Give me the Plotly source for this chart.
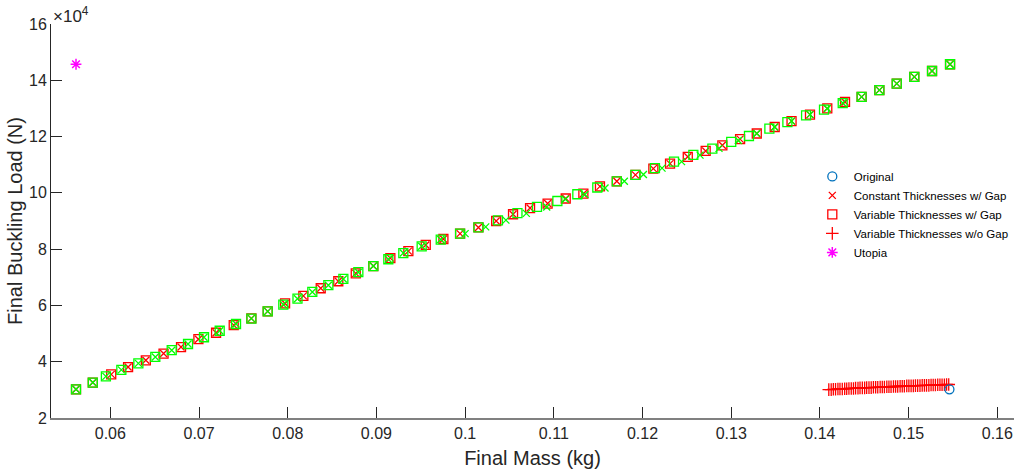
import plotly.graph_objects as go

# Pareto fronts: final mass (kg) vs final buckling load (x10^4 N)

# Constant thicknesses with gap (red x) and variable thicknesses with gap (red squares)
gap_mass = [0.05613, 0.05802, 0.0601, 0.0620, 0.0640, 0.0660, 0.06797, 0.06993, 0.07192, 0.07391,
            0.0759, 0.07774, 0.0797, 0.08176, 0.08372, 0.0857, 0.08767, 0.08965, 0.09157, 0.0936,
            0.09556, 0.09755, 0.09943, 0.1015, 0.1035, 0.1054, 0.10732, 0.1093, 0.11134, 0.11333,
            0.1152, 0.1171, 0.1192, 0.12122, 0.1231, 0.1251, 0.12712, 0.1290, 0.1310, 0.13288,
            0.1349, 0.1368, 0.13888, 0.14083, 0.14283, 0.1447, 0.1467, 0.14866, 0.15064, 0.15264,
            0.15467]
gap_load = [3.02, 3.26, 3.55, 3.81, 4.05, 4.29, 4.52, 4.80, 5.03, 5.30,
            5.54, 5.79, 6.07, 6.34, 6.61, 6.86, 7.14, 7.40, 7.68, 7.93,
            8.15, 8.36, 8.55, 8.77, 9.00, 9.24, 9.46, 9.62, 9.80, 9.97,
            10.23, 10.41, 10.64, 10.86, 11.04, 11.28, 11.49, 11.69, 11.91, 12.11,
            12.34, 12.55, 12.78, 13.00, 13.23, 13.41, 13.65, 13.88, 14.12, 14.33,
            14.57]

# Second front, square markers (green)
green_sq_mass = [0.05613, 0.05802, 0.0595, 0.06124, 0.06316, 0.06507, 0.06692, 0.06876, 0.07056, 0.07233,
                 0.07417, 0.0759, 0.07774, 0.0795, 0.0811, 0.08277, 0.08458, 0.08627, 0.08796, 0.08965,
                 0.09134, 0.09303, 0.0951, 0.09725, 0.09943, 0.1015, 0.1037, 0.1059, 0.1081, 0.1104,
                 0.11265, 0.1149, 0.1171, 0.1192, 0.1214, 0.12355, 0.12573, 0.12787, 0.1300, 0.1320,
                 0.1343, 0.13633, 0.13844, 0.14046, 0.14257, 0.1447, 0.1467, 0.14866, 0.15064, 0.15264,
                 0.15467]
green_sq_load = [3.02, 3.26, 3.48, 3.71, 3.94, 4.17, 4.41, 4.63, 4.87, 5.10,
                 5.34, 5.53, 5.79, 6.03, 6.24, 6.48, 6.72, 6.94, 7.18, 7.40,
                 7.64, 7.86, 8.10, 8.34, 8.55, 8.77, 9.02, 9.28, 9.50, 9.71,
                 9.95, 10.19, 10.41, 10.64, 10.88, 11.11, 11.35, 11.57, 11.81, 12.02,
                 12.28, 12.51, 12.75, 12.96, 13.19, 13.41, 13.65, 13.88, 14.12, 14.33,
                 14.57]

# Second front, x markers (green)
green_x_mass = [0.05613, 0.05802, 0.0595, 0.06124, 0.06316, 0.06507, 0.06692, 0.06876, 0.07056, 0.07233,
                0.07417, 0.0759, 0.07774, 0.0795, 0.0811, 0.08277, 0.08458, 0.08627, 0.08796, 0.08965,
                0.09134, 0.09303, 0.0951, 0.09725, 0.1000, 0.10232, 0.1046, 0.1069, 0.1092, 0.1113,
                0.1135, 0.11577, 0.11795, 0.1201, 0.1222, 0.1244, 0.12648, 0.12862, 0.1308, 0.13288,
                0.1349, 0.1368, 0.13888, 0.14083, 0.14257, 0.1447, 0.1467, 0.14866, 0.15064, 0.15264,
                0.15467]
green_x_load = [3.02, 3.26, 3.48, 3.71, 3.94, 4.17, 4.41, 4.63, 4.87, 5.10,
                5.34, 5.53, 5.79, 6.03, 6.24, 6.48, 6.72, 6.94, 7.18, 7.40,
                7.64, 7.86, 8.10, 8.34, 8.55, 8.79, 9.03, 9.27, 9.50, 9.77,
                9.94, 10.17, 10.41, 10.65, 10.88, 11.11, 11.34, 11.58, 11.86, 12.11,
                12.34, 12.55, 12.78, 13.00, 13.19, 13.41, 13.65, 13.88, 14.12, 14.33,
                14.57]

# Variable thicknesses without gap (red +)
nogap_mass = [0.14100, 0.14127, 0.14151, 0.14176, 0.14203, 0.14226, 0.14252, 0.14279, 0.14302, 0.14327,
              0.14353, 0.14378, 0.14402, 0.14429, 0.14452, 0.14478, 0.14504, 0.14527, 0.14553, 0.14578,
              0.14603, 0.14628, 0.14652, 0.14679, 0.14703, 0.14727, 0.14754, 0.14778, 0.14802, 0.14829,
              0.14853, 0.14877, 0.14904, 0.14928, 0.14952, 0.14979, 0.15003, 0.15028, 0.15053, 0.15077,
              0.15102, 0.15128, 0.15153, 0.15178, 0.15202, 0.15228, 0.15253, 0.15277, 0.15302, 0.15328,
              0.15353, 0.15377, 0.15403, 0.15428, 0.15452]
nogap_load = [3.01, 3.01, 3.02, 3.02, 3.03, 3.03, 3.03, 3.04, 3.04, 3.05,
              3.05, 3.05, 3.06, 3.06, 3.07, 3.07, 3.07, 3.08, 3.08, 3.08,
              3.09, 3.09, 3.09, 3.10, 3.10, 3.10, 3.11, 3.11, 3.11, 3.12,
              3.12, 3.12, 3.13, 3.13, 3.13, 3.14, 3.14, 3.14, 3.14, 3.15,
              3.15, 3.15, 3.16, 3.16, 3.16, 3.16, 3.17, 3.17, 3.17, 3.18,
              3.18, 3.18, 3.18, 3.19, 3.19]

original_mass = [0.1546]
original_load = [3.02]

utopia_mass = [0.05613]
utopia_load = [14.57]

x_ticks = [0.06, 0.07, 0.08, 0.09, 0.10, 0.11, 0.12, 0.13, 0.14, 0.15, 0.16]
x_tick_text = ["0.06", "0.07", "0.08", "0.09", "0.1", "0.11", "0.12", "0.13", "0.14", "0.15", "0.16"]
y_ticks = [2, 4, 6, 8, 10, 12, 14, 16]
y_tick_text = ["2", "4", "6", "8", "10", "12", "14", "16"]

RED = "#FF0000"
GREEN = "#00FF00"
FONT = "Liberation Sans, Arial, sans-serif"

fig = go.Figure()

fig.add_trace(go.Scatter(
    x=gap_mass, y=gap_load, mode="markers", name="Variable Thicknesses w/ Gap",
    legendrank=3,
    marker=dict(symbol="square-open", size=9, color=RED, line=dict(width=1.3, color=RED))))
fig.add_trace(go.Scatter(
    x=gap_mass, y=gap_load, mode="markers", name="Constant Thicknesses w/ Gap",
    legendrank=2,
    marker=dict(symbol="x-thin-open", size=7, color=RED, line=dict(width=1.3, color=RED))))
fig.add_trace(go.Scatter(
    x=green_sq_mass, y=green_sq_load, mode="markers", showlegend=False,
    marker=dict(symbol="square-open", size=9, color=GREEN, line=dict(width=1.3, color=GREEN))))
fig.add_trace(go.Scatter(
    x=green_x_mass, y=green_x_load, mode="markers", showlegend=False,
    marker=dict(symbol="x-thin-open", size=7, color=GREEN, line=dict(width=1.3, color=GREEN))))
fig.add_trace(go.Scatter(
    x=nogap_mass, y=nogap_load, mode="markers", name="Variable Thicknesses w/o Gap",
    legendrank=4,
    marker=dict(symbol="cross-thin-open", size=9, color=RED, line=dict(width=1.3, color=RED))))
fig.add_trace(go.Scatter(
    x=original_mass, y=original_load, mode="markers", name="Original",
    legendrank=1,
    marker=dict(symbol="circle-open", size=9, color="#0072BD", line=dict(width=1.3, color="#0072BD"))))
fig.add_trace(go.Scatter(
    x=utopia_mass, y=utopia_load, mode="markers", name="Utopia",
    legendrank=5,
    marker=dict(symbol="asterisk-open", size=9, color="#FF00FF", line=dict(width=1.5, color="#FF00FF"))))

fig.update_layout(
    width=1014, height=474,
    margin=dict(l=51, r=0, t=24, b=56),
    paper_bgcolor="white", plot_bgcolor="white",
    font=dict(family=FONT, color="#262626"),
    showlegend=True,
    legend=dict(x=0.789, y=0.65, xanchor="left", yanchor="top",
                bgcolor="rgba(0,0,0,0)", borderwidth=0,
                font=dict(size=11.5, color="#000000"),
                itemsizing="trace",
                tracegroupgap=0, itemwidth=33),
    xaxis=dict(range=[0.05331, 0.16188], tickvals=x_ticks, ticktext=x_tick_text,
               ticks="inside", ticklen=11, tickwidth=1, tickcolor="#262626",
               showline=True, linecolor="#808080", linewidth=2,
               showgrid=False, zeroline=False,
               tickfont=dict(size=16, family=FONT, color="#262626"),
               title=dict(text="Final Mass (kg)", font=dict(size=20, family=FONT, color="#262626"),
                          standoff=10)),
    yaxis=dict(range=[2, 16], tickvals=y_ticks, ticktext=y_tick_text,
               ticks="inside", ticklen=11, tickwidth=1, tickcolor="#262626",
               showline=True, linecolor="#262626", linewidth=1,
               showgrid=False, zeroline=False,
               tickfont=dict(size=16, family=FONT, color="#262626"),
               title=dict(text="Final Buckling Load (N)", font=dict(size=20, family=FONT, color="#262626"),
                          standoff=1)),
)

# Axis exponent label
fig.add_annotation(xref="paper", yref="paper", x=0.0, y=1.0, xanchor="left", yanchor="bottom",
                   text="\u00d710<sup>4</sup>", showarrow=False,
                   font=dict(size=17, family=FONT, color="#262626"), yshift=-4)

fig.write_html("out.html")
